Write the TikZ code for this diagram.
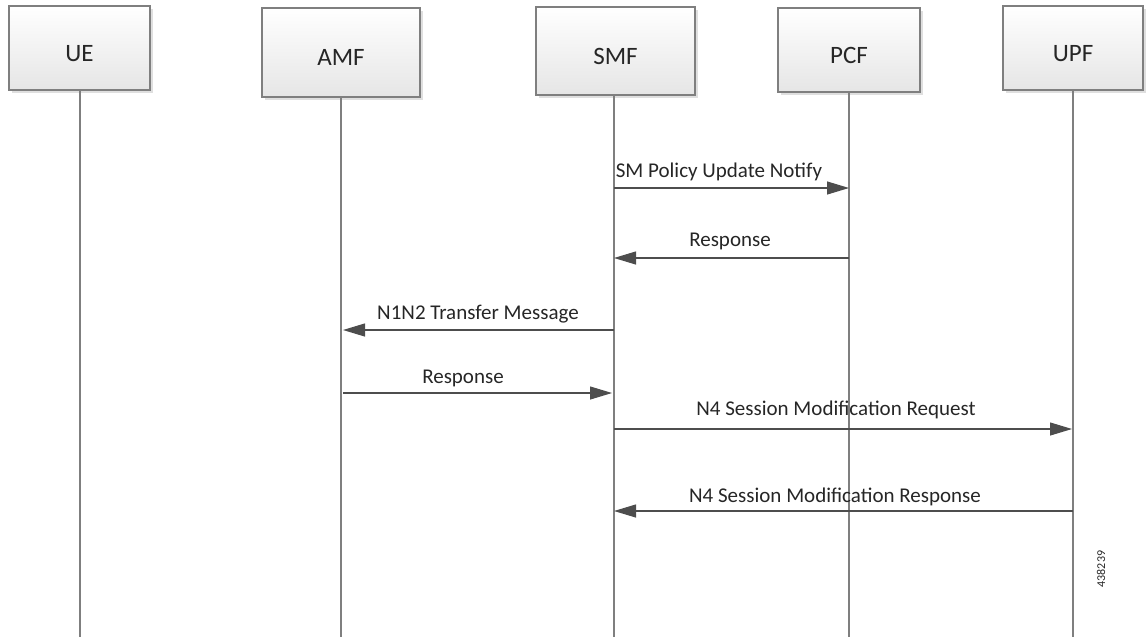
\documentclass[tikz,border=0pt]{standalone}
\usepackage{fontspec}
\setmainfont{Carlito}
\usetikzlibrary{arrows.meta,shadows}
\definecolor{linegray}{HTML}{7F7F7F}
\definecolor{arrgray}{HTML}{4D4D4D}
\definecolor{txt}{HTML}{262626}
\tikzset{
  entity/.style={draw=linegray, line width=1.2pt, top color=white, bottom color=black!10,
    drop shadow={opacity=0.25, shadow xshift=2.5pt, shadow yshift=-2.5pt},
    minimum width=#1, inner sep=0pt, font=\fontsize{25}{30}\selectfont, text=txt,
    text height=26pt, text depth=0pt},
  lifeline/.style={draw=linegray, line width=1.3pt},
  msg/.style={draw=arrgray, line width=1.1pt, -{Triangle[length=22pt,width=13pt]}},
  lbl/.style={font=\fontsize{21}{25}\selectfont, text=txt, inner sep=0pt}
}
\begin{document}
\begin{tikzpicture}[x=1pt,y=-1pt]
\useasboundingbox (0,0) rectangle (1147,637);
% entities
\node[entity=141pt, minimum height=84pt] (ue)  at (79.5,48) {UE};
\node[entity=158pt, minimum height=89pt] (amf) at (341,52.5) {AMF};
\node[entity=159pt, minimum height=88pt] (smf) at (615.5,51) {SMF};
\node[entity=142pt, minimum height=84pt] (pcf) at (849,50) {PCF};
\node[entity=140pt, minimum height=84pt] (upf) at (1073,48) {UPF};
% lifeline ends
\coordinate (ueE)  at (80,637);
\coordinate (amfE) at (341,637);
\coordinate (smfE) at (614,637);
\coordinate (pcfE) at (849,637);
\coordinate (upfE) at (1073,637);
\draw[lifeline] (ue.south -| ueE) -- (ueE);
\draw[lifeline] (amf.south -| amfE) -- (amfE);
\draw[lifeline] (smf.south -| smfE) -- (smfE);
\draw[lifeline] (pcf.south -| pcfE) -- (pcfE);
\draw[lifeline] (upf.south -| upfE) -- (upfE);
% message end points
\coordinate (s1) at (614,188); \coordinate (p1) at (849,188);
\coordinate (p2) at (849,258); \coordinate (s2) at (614,258);
\coordinate (s3) at (614,330); \coordinate (a3) at (343,330);
\coordinate (a4) at (343,393); \coordinate (s4) at (612,393);
\coordinate (s5) at (614,429); \coordinate (u5) at (1072,429);
\coordinate (u6) at (1073,511); \coordinate (s6) at (614,511);
% messages
\draw[msg] (s1) -- (p1);
\node[lbl] (l1) at (719,172) {SM Policy Update Notify};
\draw[msg] (p2) -- (s2);
\node[lbl] (l2) at (730,241) {Response};
\draw[msg] (s3) -- (a3);
\node[lbl] (l3) at (478,314) {N1N2 Transfer Message};
\draw[msg] (a4) -- (s4);
\node[lbl] (l4) at (463,378) {Response};
\draw[msg] (s5) -- (u5);
\node[lbl] (l5) at (836,410) {N4 Session Modification Request};
\draw[msg] (u6) -- (s6);
\node[lbl] (l6) at (835,497) {N4 Session Modification Response};
% figure number
\node[rotate=90, font=\fontsize{12}{14}\selectfont, text=txt, inner sep=0pt] (fig) at (1101,569) {438239};
\end{tikzpicture}
\end{document}
